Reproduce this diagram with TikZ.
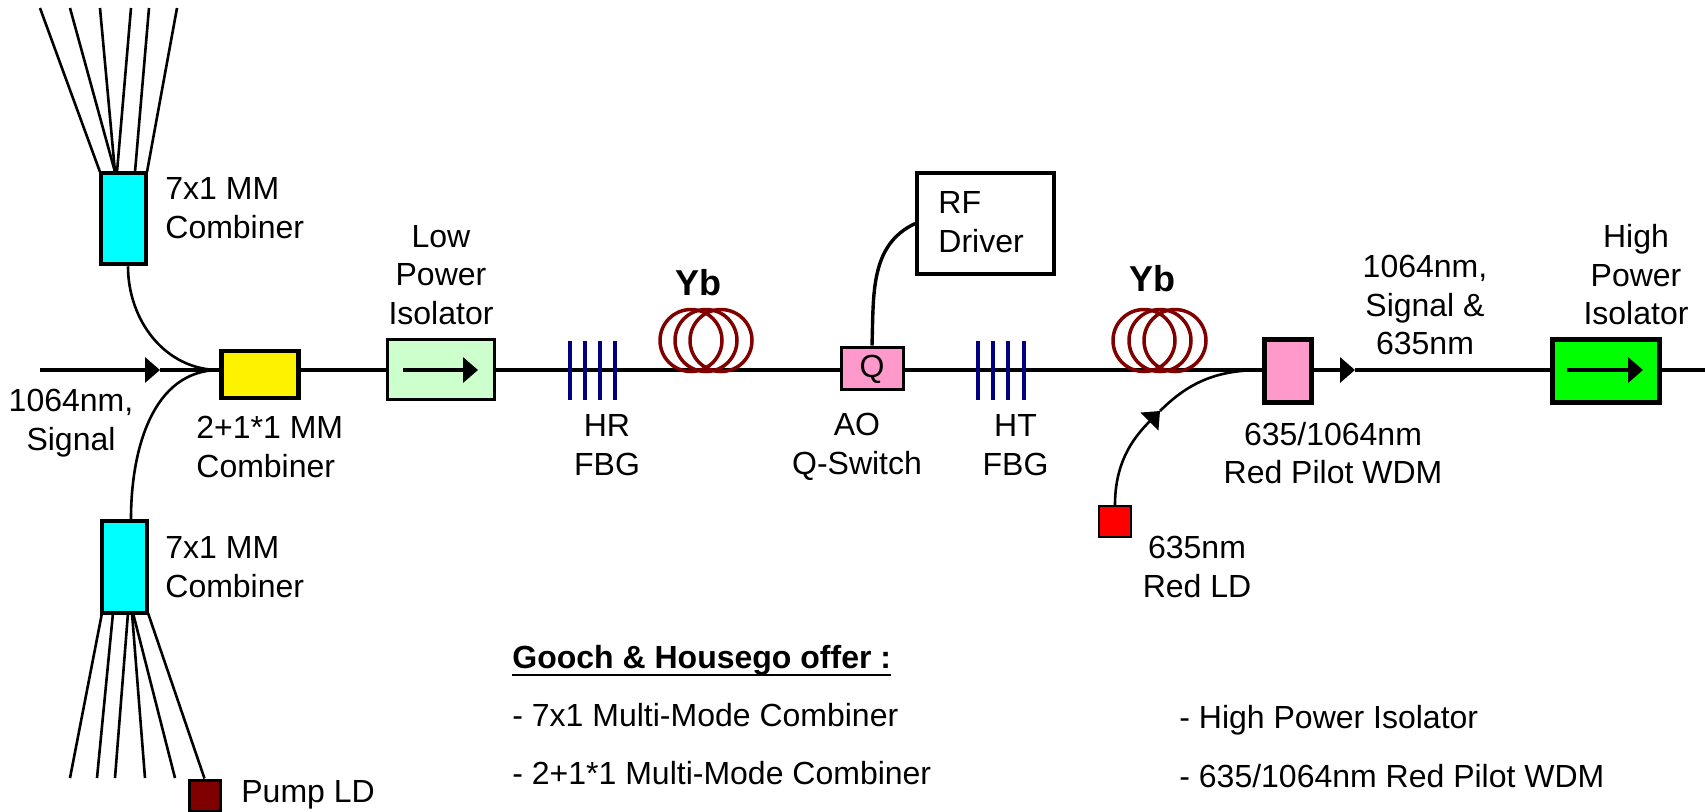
\documentclass[tikz,border=0pt]{standalone}
\usepackage{fontspec}
\setmainfont{Liberation Sans}
\usepackage{xcolor}
\usetikzlibrary{arrows.meta}
\definecolor{cyancol}{RGB}{0,255,255}
\definecolor{pinkcol}{RGB}{255,153,204}
\definecolor{lowcol}{RGB}{204,255,204}
\definecolor{maroon}{RGB}{128,0,0}
\definecolor{navycol}{RGB}{0,0,128}
\tikzset{>={Triangle[length=7.5pt,width=12.5pt]}}
\tikzset{label/.style = {font=\fontsize{16}{19.25}\selectfont,inner sep=0pt,align=center}}
\tikzset{part/.style = {shape=rectangle,draw,inner sep=0pt}}
\tikzset{coil/.style = {shape=circle,draw=maroon,line width=1.75pt,minimum size=31pt,inner sep=0pt}}
\tikzset{grating/.style = {draw=navycol,line width=2pt}}
\tikzset{fibre/.style = {line width=1.7pt}}
\tikzset{strand/.style = {line width=1.3pt}}

\begin{document}
\begin{tikzpicture}[x=0.5pt,y=-0.5pt]
                \useasboundingbox (0,0) rectangle (1705,811);

                \coordinate (in) at (40,370);
                \coordinate (out) at (1705,370);
                \coordinate (sigmark) at (160,370);
                \coordinate (wdmmark) at (1355,370);
                \coordinate (redmark) at (1160,411);
                \coordinate (lowtail) at (403,370);
                \coordinate (lowtip) at (478,370);
                \coordinate (hightail) at (1567,370);
                \coordinate (hightip) at (1643,370);

                \node[part,line width=2.25pt,fill=cyancol,minimum width=22.5pt,minimum height=45.5pt] (cyanup) at (123.5,218.5) {};
                \node[part,line width=2.25pt,fill=cyancol,minimum width=22.5pt,minimum height=46pt] (cyanlo) at (124.5,567) {};
                \node[part,line width=2.25pt,fill=yellow,minimum width=38.5pt,minimum height=23.5pt] (yellowbox) at (260,374.5) {};
                \node[part,line width=1.5pt,fill=lowcol,minimum width=53.5pt,minimum height=30pt] (lowiso) at (441,369.5) {};
                \node[part,line width=1.5pt,fill=pinkcol,minimum width=31pt,minimum height=21pt] (qsw) at (872,368) {};
                \node[part,line width=2.5pt,fill=pinkcol,minimum width=23.5pt,minimum height=31.5pt] (wdm) at (1288,370.5) {};
                \node[part,line width=2.5pt,fill=green,minimum width=53.5pt,minimum height=31.5pt] (highiso) at (1605.5,370.5) {};
                \node[part,line width=1.75pt,fill=white,minimum width=68.5pt,minimum height=50.5pt] (rfdrv) at (985.5,223.5) {};
                \node[part,line width=1pt,fill=red,minimum width=15.75pt,minimum height=15.5pt] (redld) at (1115,521.5) {};
                \node[part,line width=1.5pt,fill=maroon,minimum width=15.5pt,minimum height=15.5pt] (pumpld) at (204.5,795.5) {};

                % main line
                \draw[fibre,->] (in) -- (sigmark);
                \draw[fibre] (sigmark) -- (yellowbox.west |- in);
                \draw[fibre] (yellowbox.east |- in) -- (lowiso.west |- in);
                \draw[fibre] (lowiso.east |- in) -- (qsw.west |- in);
                \draw[fibre] (qsw.east |- in) -- (wdm.west |- in);
                \draw[fibre,->] (wdm.east |- in) -- (wdmmark);
                \draw[fibre] (wdmmark) -- (highiso.west |- in);
                \draw[fibre] (highiso.east |- in) -- (out);

                \draw[fibre,->] (lowtail) -- (lowtip);
                \draw[line width=2pt,->] (hightail) -- (hightip);

                \draw[strand] ([xshift=2.25pt]cyanup.south) to[out=-90,in=180] (yellowbox.west |- in);
                \draw[strand] ([xshift=3.25pt]cyanlo.north) to[out=90,in=180] (yellowbox.west |- in);
                \draw[fibre] (qsw.north) to[out=88,in=205] (rfdrv.west);
                \draw[strand,->] (redld.north) to[out=90,in=225] (redmark);
                \draw[strand] (redmark) to[out=45,in=180] (wdm.west |- in);

                \foreach \i/\xa/\xb in {1/40/100,2/70/115,3/100/115,4/131/117,5/149/135,6/177/147}{
                    \coordinate (upfree\i) at (\xa,8);
                    \coordinate (upfoot\i) at (\xb,172);
                    \draw[strand] (upfree\i) -- (upfoot\i);
                }
                \foreach \i/\xa/\xb in {1/102/70,2/113/97,3/128/115,4/132/145,5/133/175}{
                    \coordinate (lofoot\i) at (\xa,613);
                    \coordinate (lofree\i) at (\xb,778);
                    \draw[strand] (lofoot\i) -- (lofree\i);
                }
                \coordinate (lofoot6) at (148,613);
                \draw[strand] (lofoot6) -- (pumpld.north);

                \foreach \bx in {570,585,600,615}
                    \draw[grating] (\bx,341) -- (\bx,400);
                \foreach \bx in {978,993,1008,1023.5}
                    \draw[grating] (\bx,341) -- (\bx,400);

                \foreach \cx in {691,706,721}
                    \node[coil] (yba\cx) at (\cx,340.5) {};
                \foreach \cx in {1144,1160,1175}
                    \node[coil] (ybb\cx) at (\cx,340.5) {};

                \node[label,align=left,anchor=west] (cyanuptxt) at (165,208) {7x1 MM\\Combiner};
                \node[label,align=left,anchor=west] (cyanlotxt) at (165,567) {7x1 MM\\Combiner};
                \node[label] (signaltxt) at (71,423) {1064nm,\\Signal};
                \node[label,align=left,anchor=west] (yellowtxt) at (196,447) {2+1*1 MM\\Combiner};
                \node[label] (lowtxt) at (441,275) {Low\\Power\\Isolator};
                \node[label] (hrtxt) at (607,445) {HR\\FBG};
                \node[label] (aotxt) at (857,447) {AO\\Q-Switch};
                \node[label] (httxt) at (1015.5,445) {HT\\FBG};
                \node[label] (qtxt) at (872,369) {Q};
                \node[label,align=left,anchor=west] (rftxt) at (938,222) {RF\\Driver};
                \node[label,font=\fontsize{18}{22}\selectfont\bfseries] (ybatxt) at (698,283) {Yb};
                \node[label,font=\fontsize{18}{22}\selectfont\bfseries] (ybbtxt) at (1152,279) {Yb};
                \node[label] (mixtxt) at (1425,305) {1064nm,\\Signal \&\\635nm};
                \node[label] (hightxt) at (1636,275) {High\\Power\\Isolator};
                \node[label] (wdmtxt) at (1333,453) {635/1064nm\\Red Pilot WDM};
                \node[label] (redtxt) at (1197,567) {635nm\\Red LD};
                \node[label,anchor=west] (pumptxt) at (241,795) {Pump LD};

                \node[label,anchor=west] (offertxt) at (512,660) {\textbf{Gooch \& Housego offer :}};
                \draw[line width=1pt] (offertxt.south west) -- (offertxt.south east);
                \node[label,anchor=west] (offera) at (512,715) {- 7x1 Multi-Mode Combiner};
                \node[label,anchor=west] (offerb) at (512,773) {- 2+1*1 Multi-Mode Combiner};
                \node[label,anchor=west] (offerc) at (1179,720) {- High Power Isolator};
                \node[label,anchor=west] (offerd) at (1179,776) {- 635/1064nm Red Pilot WDM};
            \end{tikzpicture}
\end{document}
